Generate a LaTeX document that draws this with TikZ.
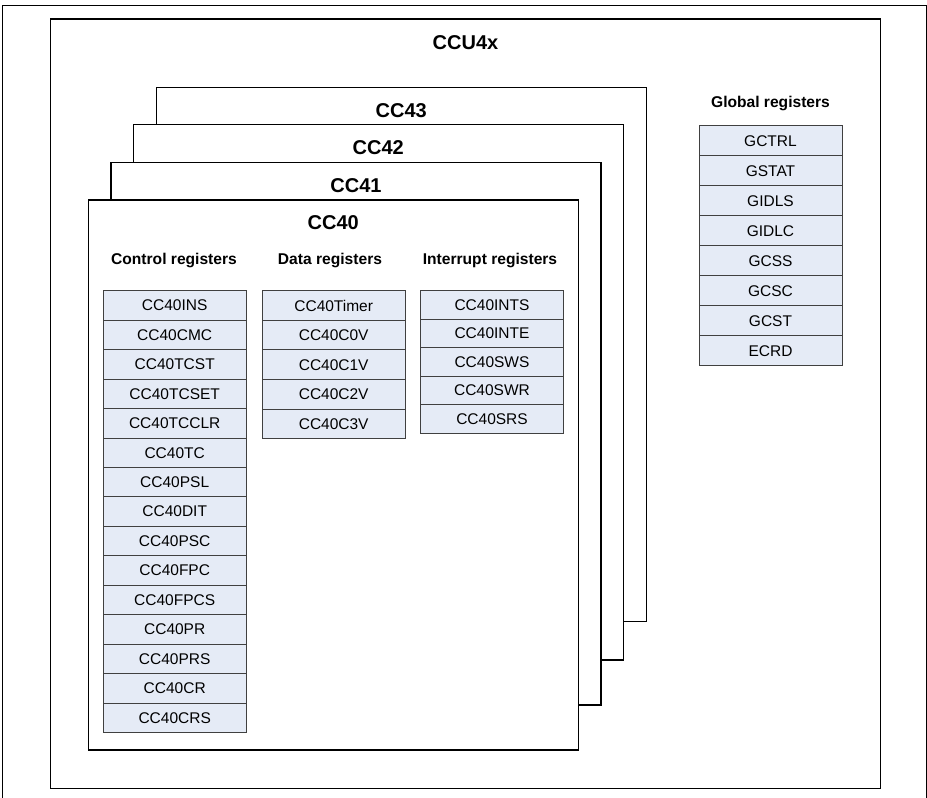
\documentclass[tikz,border=0pt]{standalone}
\usepackage{fontspec}
\setmainfont{Liberation Sans}
\usepackage{tikz}
\usetikzlibrary{positioning}
\definecolor{regfill}{RGB}{229,235,246}

\begin{document}
\begin{tikzpicture}[x=1pt, y=-1pt]
  \tikzset{
    unit box/.style={draw=black, line width=1.4pt, fill=white},
    unit title/.style={font=\fontsize{20}{24}\selectfont\bfseries, anchor=center},
    group title/.style={font=\fontsize{15.6}{18}\selectfont\bfseries, anchor=center},
    reg/.style={draw=black!75, line width=0.9pt, fill=regfill, anchor=north,
      minimum width=143pt, minimum height=#1, inner sep=0pt, outer sep=0pt,
      font=\fontsize{15.5}{18}\selectfont},
    reg/.default=29.5pt
  }

  \useasboundingbox (0,0) rectangle (927,798);

  % --- outer frame, open at the bottom ---
  \draw[line width=0.8pt] (2.7,798) -- (2.7,5.3) -- (926.3,5.3) -- (926.3,798);

  % --- CCU4x kernel ---
  \draw[unit box] (50.7,19) rectangle (880.3,788.3);
  \node[unit title] (ccu) at (465.5,43) {CCU4x};

  % the four slices, back to front
  \foreach \n/\l/\t/\b in {3/156.3/87.3/621.7, 2/133.3/124.7/660, 1/111/162.3/705, 0/88.3/200/750} {
    \draw[unit box] (\l,\t) rectangle ({\l+490},\b);
    \node[unit title] (cc4\n) at ({\l+245},{\t+23}) {CC4\n};
  }

  % --- register groups of CC40 ---
  \node[group title] (ctltitle) at (174,260) {Control registers};
  \node[group title] (datatitle) at (330,260) {Data registers};
  \node[group title] (inttitle) at (490,260) {Interrupt registers};

  \foreach \r [count=\i from 0] in {INS,CMC,TCST,TCSET,TCCLR,TC,PSL,DIT,PSC,FPC,FPCS,PR,PRS,CR,CRS}
    \node[reg=29.45pt] (ctl\i) at (174.7,{290.7+\i*29.45}) {CC40\r};

  \foreach \r [count=\i from 0] in {Timer,C0V,C1V,C2V,C3V}
    \node[reg=29.6pt] (data\i) at (333.7,{290.7+\i*29.6}) {CC40\r};

  \foreach \r [count=\i from 0] in {INTS,INTE,SWS,SWR,SRS}
    \node[reg=28.5pt, minimum width=142.6pt] (int\i) at (492,{290.7+\i*28.5}) {CC40\r};

  % --- global registers ---
  \node[group title] (globtitle) at (770.5,103) {Global registers};
  \foreach \r [count=\i from 0] in {GCTRL,GSTAT,GIDLS,GIDLC,GCSS,GCSC,GCST,ECRD}
    \node[reg=30pt] (glob\i) at (770.5,{125.7+\i*30}) {\r};
\end{tikzpicture}
\end{document}
